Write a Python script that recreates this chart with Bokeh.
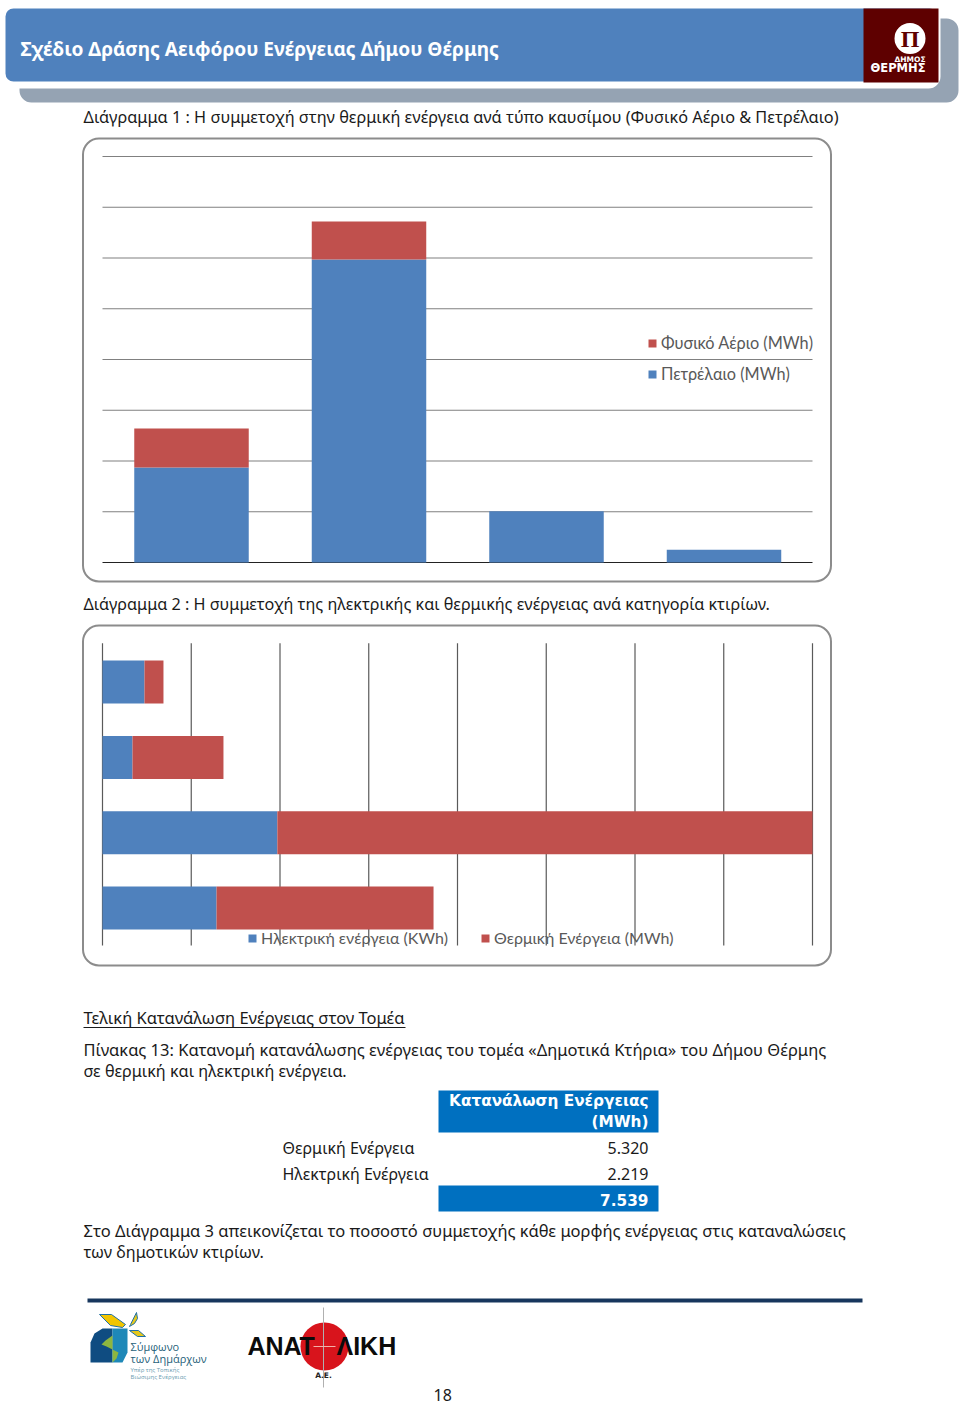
from bokeh.plotting import figure
from bokeh.models import Range1d, Legend, LegendItem, ColumnDataSource
from bokeh.core.properties import value
from bokeh.embed import file_html
from bokeh.resources import INLINE

# ---- chart 1 (stacked columns, no axis labels in the source)
c1_positions = [1, 2, 3, 4]
c1_petroleum = [1870, 5970, 1010, 250]
c1_gas = [770, 750, 0, 0]
c1_ticks = [0, 1000, 2000, 3000, 4000, 5000, 6000, 7000, 8000]
c1_labels = ["Φυσικό Αέριο (MWh)", "Πετρέλαιο (MWh)"]

# ---- chart 2 (stacked horizontal bars)
c2_positions = [1, 2, 3, 4]
c2_electric = [1285, 1970, 338, 473]
c2_thermal = [2445, 6030, 1025, 214]
c2_ticks = [0, 1000, 2000, 3000, 4000, 5000, 6000, 7000, 8000]
c2_labels = ["Ηλεκτρική ενέργεια (KWh)", "Θερμική Ενέργεια (MWh)"]

# ---- table
table_rows = ["Θερμική Ενέργεια", "Ηλεκτρική Ενέργεια"]
table_values = ["5.320", "2.219"]
table_total = "7.539"

BLUE = "#4F81BD"
RED = "#C0504D"
TEAL = "#1F5F7A"
W, H = 960, 1405
BODY = "Noto Sans"
BS = 16.2

p = figure(width=W, height=H, output_backend="svg", toolbar_location=None,
           x_range=Range1d(0, W), y_range=Range1d(H, 0),
           min_border=0, outline_line_color=None, background_fill_color="white")
p.axis.visible = False
p.grid.visible = False


def rbox(l, t, r, b, rad, fill=None, line=None, lw=1):
    p.quad(left=[l], right=[r], top=[t], bottom=[b], border_radius=rad,
           fill_color=fill, fill_alpha=1 if fill else 0,
           line_color=line, line_width=lw, line_alpha=1 if line else 0)


def txt(x, y, s, size, color="#1a1a1a", style="normal", align="left", font=BODY):
    p.text([x], [y], text=[s], text_font=value(font), text_font_size=f"{size}px",
           text_color=color, text_font_style=style, text_align=align,
           text_baseline="middle")


# header
rbox(19, 18, 958, 102, 12, fill="#95A3B3")
rbox(2, 3, 940, 88, 12, fill="#FFFFFF")
rbox(5, 8, 937, 81, 8, fill=BLUE)
rbox(863, 8, 938, 82, 0, fill="#5E0000")
p.circle([909.5], [38], radius=15.5, fill_color="white", line_color=None)
txt(909.5, 38, "Π", 24, color="#5E0000", style="bold", align="center", font="Liberation Serif")
txt(925, 59, "ΔΗΜΟΣ", 7.5, color="white", style="bold", align="right", font="DejaVu Sans")
txt(925, 67, "ΘΕΡΜΗΣ", 11.5, color="white", style="bold", align="right", font="DejaVu Sans")
txt(20, 48, "Σχέδιο Δράσης Αειφόρου Ενέργειας Δήμου Θέρμης", 19.1, color="white", style="bold")

# chart 1
txt(83, 116, "Διάγραμμα 1 : Η συμμετοχή στην θερμική ενέργεια ανά τύπο καυσίμου (Φυσικό Αέριο & Πετρέλαιο)", 16.3)
rbox(82.5, 138, 830.5, 581, 16, fill="white", line="#8C8C8C", lw=2)

C1_UNIT = 50.75 / 1000
p.extra_y_ranges["c1y"] = Range1d((562 - H) / C1_UNIT, 562 / C1_UNIT)
C1_STEP = 177.5
p.extra_x_ranges["c1x"] = Range1d(-191 / C1_STEP + 1, (W - 191) / C1_STEP + 1)
for t in c1_ticks:
    p.segment([0.4986], [t], [4.4986], [t], x_range_name="c1x", y_range_name="c1y",
              line_color="#222222" if t == 0 else "#808080", line_width=1.2)

src1 = ColumnDataSource(dict(x=c1_positions, pet=c1_petroleum,
                             base=c1_petroleum,
                             top=[a + b for a, b in zip(c1_petroleum, c1_gas)]))
r_pet = p.vbar(x="x", width=0.645, bottom=0, top="pet", source=src1, fill_color=BLUE, line_color=None,
               x_range_name="c1x", y_range_name="c1y")
r_gas = p.vbar(x="x", width=0.645, bottom="base", top="top", source=src1, fill_color=RED, line_color=None,
               x_range_name="c1x", y_range_name="c1y")
leg1 = Legend(items=[LegendItem(label=value(c1_labels[0]), renderers=[r_gas]),
                     LegendItem(label=value(c1_labels[1]), renderers=[r_pet])],
              location=(647, 1022), orientation="vertical", spacing=12, padding=0, margin=0,
              background_fill_alpha=0, border_line_alpha=0, glyph_width=10, glyph_height=10,
              label_standoff=4, label_text_font="Lato", label_text_font_size="16.3px",
              label_text_color="#595959", label_height=18)
p.add_layout(leg1)

# chart 2
txt(83, 603, "Διάγραμμα 2 : Η συμμετοχή της ηλεκτρικής και θερμικής ενέργειας ανά κατηγορία κτιρίων.", BS)
rbox(82.5, 625, 830.5, 965, 16, fill="white", line="#8C8C8C", lw=2)

C2_UNIT = 88.75 / 1000
p.extra_x_ranges["c2x"] = Range1d(-102 / C2_UNIT, (W - 102) / C2_UNIT)
C2_STEP = 75.3
p.extra_y_ranges["c2y"] = Range1d((907.5 - H) / C2_STEP + 1, 907.5 / C2_STEP + 1)
for t in c2_ticks:
    p.segment([t], [0.502], [t], [4.515], x_range_name="c2x", y_range_name="c2y",
              line_color="#5a5a5a", line_width=1.2)

src2 = ColumnDataSource(dict(y=c2_positions, el=c2_electric,
                             end=[a + b for a, b in zip(c2_electric, c2_thermal)]))
r_el = p.hbar(y="y", height=0.571, left=0, right="el", source=src2, fill_color=BLUE, line_color=None,
              x_range_name="c2x", y_range_name="c2y")
r_th = p.hbar(y="y", height=0.571, left="el", right="end", source=src2, fill_color=RED, line_color=None,
              x_range_name="c2x", y_range_name="c2y")
leg2 = Legend(items=[LegendItem(label=value(c2_labels[0]), renderers=[r_el]),
                     LegendItem(label=value(c2_labels[1]), renderers=[r_th])],
              location=(247, 458), orientation="horizontal", spacing=32, padding=0, margin=0,
              background_fill_alpha=0, border_line_alpha=0, glyph_width=10, glyph_height=10,
              label_standoff=4, label_text_font="Lato", label_text_font_size="16px",
              label_text_color="#595959", label_height=18)
p.add_layout(leg2)

# text block
txt(83, 1017, "Τελική Κατανάλωση Ενέργειας στον Τομέα", 16.5)
p.segment([83], [1027], [405], [1027], line_color="#1a1a1a", line_width=1)
txt(83, 1049, "Πίνακας 13: Κατανομή κατανάλωσης ενέργειας του τομέα  «Δημοτικά Κτήρια» του Δήμου Θέρμης", 16.5)
txt(83, 1070, "σε θερμική και ηλεκτρική ενέργεια.", BS)

rbox(438, 1090, 658, 1132, 0, fill="#0070C0")
rbox(438, 1185, 658, 1211, 0, fill="#0070C0")
txt(648, 1100, "Κατανάλωση Ενέργειας", 15.3, color="white", style="bold", align="right", font="DejaVu Sans")
txt(648, 1121, "(MWh)", 15.3, color="white", style="bold", align="right", font="DejaVu Sans")
for i, (lab, val) in enumerate(zip(table_rows, table_values)):
    txt(282, 1147 + 26 * i, lab, 16)
    txt(648, 1147 + 26 * i, val, 16, align="right")
txt(648, 1199, table_total, 15.3, color="white", style="bold", align="right", font="DejaVu Sans")

txt(83, 1230, "Στο Διάγραμμα 3 απεικονίζεται το ποσοστό συμμετοχής κάθε μορφής ενέργειας στις καταναλώσεις", 16.5)
txt(83, 1251, "των δημοτικών κτιρίων.", BS)

# footer
p.segment([87], [1300], [862], [1300], line_color="#17365D", line_width=4)

# covenant of mayors mark
p.patch([90, 90, 94, 102, 112, 112], [1362, 1342, 1333, 1328, 1328, 1362], fill_color="#0F4C81", line_color=None)
p.patch([112, 127, 127, 122, 112], [1328, 1328, 1352, 1362, 1362], fill_color="#1E88B8", line_color=None)
p.patch([112, 105, 101, 106, 112, 118, 116, 112], [1335, 1340, 1344, 1346, 1349, 1352, 1358, 1362],
        fill_color="#8DB63F", line_color=None)
p.patch([99, 111, 125, 122, 110], [1314, 1314, 1324, 1327, 1325], fill_color="#F2C500", line_color="#1E6FA8", line_width=1)
p.patch([130, 136, 137, 134, 129], [1324, 1312, 1318, 1323, 1326], fill_color="#E5C81C", line_color="#1E6FA8", line_width=1)
p.patch([129, 138, 145, 137], [1330, 1330, 1336, 1336], fill_color="#E5C81C", line_color="#1E6FA8", line_width=1)
txt(130, 1346, "Σύμφωνο", 11, color=TEAL, font="Open Sans")
txt(130, 1358, "των Δημάρχων", 11, color=TEAL, font="Open Sans")
txt(130, 1369, "Υπέρ της Τοπικής", 6, color="#6A9BB0", font="Open Sans")
txt(130, 1376, "Βιώσιμης Ενέργειας", 6, color="#6A9BB0", font="Open Sans")

# anatoliki mark
p.circle([324], [1346], radius=24, fill_color="#D8141C", line_color=None)
p.segment([323], [1307], [323], [1387], line_color="#B0B0B0", line_width=1)
p.segment([313], [1346], [335], [1346], line_color="#F4B0A8", line_width=1)
txt(247, 1345, "ΑΝΑΤ", 25, color="#0B0B0B", style="bold", font="Liberation Sans")
txt(336, 1345, "ΛΙΚΗ", 25, color="#0B0B0B", style="bold", font="Liberation Sans")
txt(323, 1375, "Α.Ε.", 7.5, color="#222222", style="bold", align="center", font="DejaVu Sans")

txt(433, 1394, "18", 16)

open("out.html", "w").write(file_html(p, INLINE))
